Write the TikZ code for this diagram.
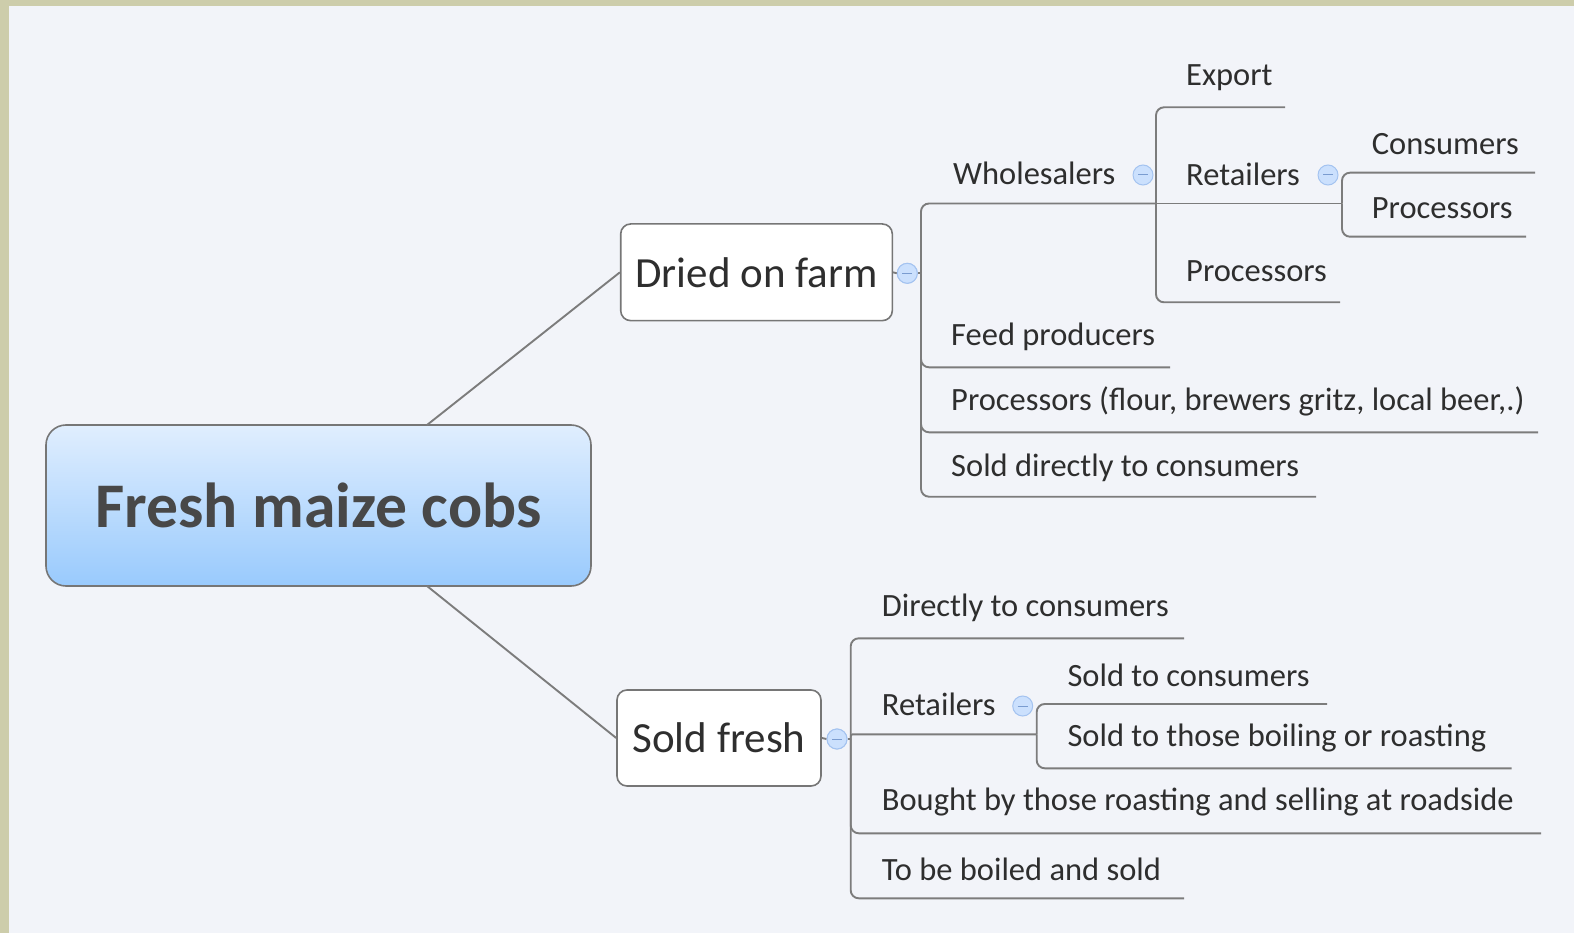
\documentclass[tikz,border=0pt]{standalone}
\usepackage{fontspec}
\setmainfont{Carlito}
\usetikzlibrary{calc}
\definecolor{bg}{HTML}{F2F4F9}
\definecolor{framec}{HTML}{CDCDAB}
\definecolor{linec}{HTML}{7C7C7C}
\definecolor{boxline}{HTML}{767676}
\definecolor{txt}{HTML}{2E2E2E}
\definecolor{roottxt}{HTML}{484848}
\definecolor{btnfill}{HTML}{CBE0FD}
\definecolor{btnline}{HTML}{A4C3F0}
\definecolor{btnminus}{HTML}{7A9CD0}
\definecolor{roottop}{HTML}{E0EEFE}
\definecolor{rootbot}{HTML}{99CAFD}
\tikzset{
  conn/.style={draw=linec, line width=1.9pt, rounded corners=8pt},
  leaf/.style={anchor=base west, inner sep=0pt, text=txt, font=\fontsize{32.5}{37}\selectfont},
  topicbox/.style={draw=boxline, line width=1.6pt, fill=white, rounded corners=10pt, text=txt,
    font=\fontsize{43}{49}\selectfont, inner sep=0pt},
  rootbox/.style={draw=boxline, line width=1.6pt, rounded corners=20pt, top color=roottop, bottom color=rootbot,
    text=roottxt, font=\bfseries\fontsize{63.6}{70}\selectfont, inner sep=0pt},
  btn/.style={circle, minimum size=20pt, inner sep=0pt, fill=btnfill, draw=btnline, line width=1pt,
    path picture={\draw[btnminus, line width=1pt] ([xshift=-5pt]path picture bounding box.center) -- ([xshift=5pt]path picture bounding box.center);}}
}
\begin{document}
\begin{tikzpicture}[x=1pt, y=-1pt]
\useasboundingbox (0,0) rectangle (1574,933);
\fill[framec] (0,0) rectangle (1574,933);
\fill[bg] (9,6) rectangle (1574,933);

% main topics
\node[rootbox, minimum width=545pt, minimum height=161pt] (root) at (318.5,505.5) {Fresh maize cobs};
\node[topicbox, minimum width=271.6pt, minimum height=96.7pt] (dried) at (756.5,272.3) {Dried on farm};
\node[topicbox, minimum width=204pt, minimum height=96pt] (sold) at (719,738) {Sold fresh};

\coordinate (rt) at (427,425);
\coordinate (rb) at (427,586);
\draw[conn] (rt) -- (dried.west);
\draw[conn] (rb) -- (sold.west);

% buttons
\node[btn] (btn1) at (907.3,273.3) {};
\node[btn] (btnw) at (1143,175) {};
\node[btn] (btnr1) at (1328,175) {};
\node[btn] (btn2) at (837,739) {};
\node[btn] (btnr2) at (1022.7,706) {};

% leaf texts
\node[leaf] (wh) at (953,185) {Wholesalers};
\node[leaf] (feed) at (951,345.5) {Feed producers};
\node[leaf] (proc) at (951,410) {Processors (flour, brewers gritz, local beer,.)};
\node[leaf] (sd) at (951,476) {Sold directly to consumers};
\node[leaf] (ex) at (1186,86) {Export};
\node[leaf] (ret1) at (1186,186) {Retailers};
\node[leaf] (pr1) at (1186,281.7) {Processors};
\node[leaf] (con) at (1371.7,155) {Consumers};
\node[leaf] (pr2) at (1371.7,218.3) {Processors};
\node[leaf] (dc) at (881.7,616.7) {Directly to consumers};
\node[leaf] (ret2) at (881.7,715) {Retailers};
\node[leaf] (bb) at (881.7,810) {Bought by those roasting and selling at roadside};
\node[leaf] (tb) at (881.7,880) {To be boiled and sold};
\node[leaf] (sc) at (1067.3,686) {Sold to consumers};
\node[leaf] (st) at (1067.3,746.7) {Sold to those boiling or roasting};

% bracket origins and line ends
\coordinate (b1) at (921,273.3);
\coordinate (b2) at (1156,203.5);
\coordinate (b3) at (1342,203.5);
\coordinate (b4) at (850.7,739);
\coordinate (b5) at (1036.7,734.3);
\coordinate (feedE) at (1170,367.3);
\coordinate (procE) at (1538,432.3);
\coordinate (sdE) at (1316,496.7);
\coordinate (exE) at (1285,107.3);
\coordinate (pr1E) at (1340,302.3);
\coordinate (conE) at (1535,172.7);
\coordinate (pr2E) at (1526,236.7);
\coordinate (dcE) at (1184,638.3);
\coordinate (bbE) at (1541,833.3);
\coordinate (tbE) at (1184,898.3);
\coordinate (scE) at (1327,704);
\coordinate (stE) at (1511.7,768.3);

% connectors upper
\draw[conn] (dried.east) -- (btn1.west);
\draw[conn] (btn1.east) -- (b1);
\draw[conn] (b1) |- (b2);
\draw[conn] (b1) |- (feedE);
\draw[conn] (b1) |- (procE);
\draw[conn] (b1) |- (sdE);
\draw[conn] (b2) |- (exE);
\draw[conn] (b2) -- (b3);
\draw[conn] (b2) |- (pr1E);
\draw[conn] (b3) |- (conE);
\draw[conn] (b3) |- (pr2E);

% connectors lower
\draw[conn] (sold.east) -- (btn2.west);
\draw[conn] (btn2.east) -- (b4);
\draw[conn] (b4) |- (dcE);
\draw[conn, rounded corners=2pt] (b4) |- (b5);
\draw[conn] (b4) |- (bbE);
\draw[conn] (b4) |- (tbE);
\draw[conn] (b5) |- (scE);
\draw[conn] (b5) |- (stE);

% redraw buttons on top
\node[btn] at (btn1) {};
\node[btn] at (btn2) {};
\end{tikzpicture}
\end{document}
